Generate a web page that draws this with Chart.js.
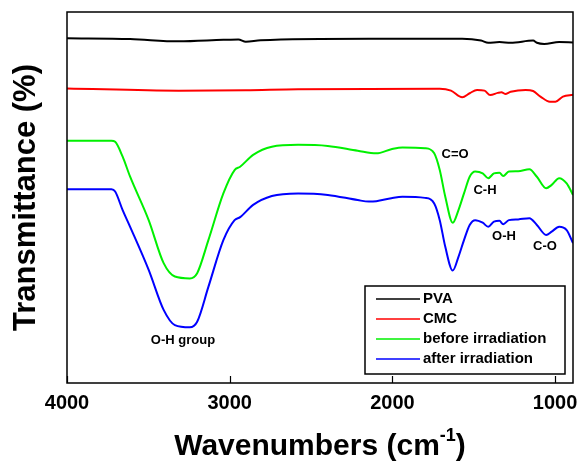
<!DOCTYPE html>
<html>
<head>
<meta charset="utf-8">
<script src="https://cdn.jsdelivr.net/npm/chart.js@4.4.1/dist/chart.umd.min.js"></script>
<style>
  html, body { margin: 0; padding: 0; background: #fff; }
</style>
</head>
<body>
<canvas id="ftirChart" width="583" height="461"></canvas>
<script>
// FTIR spectra, values (arbitrary transmittance units)
const seriesNames = ['PVA', 'CMC', 'before irradiation', 'after irradiation'];
const seriesColors = ['#000000', '#ff0000', '#00f000', '#0000ff'];

const pvaWn = [4000, 3612, 3314, 3039, 2947, 2901, 2810, 2145, 1571, 1455, 1411, 1342, 1273, 1135, 1112, 1067, 975, 890];
const pvaT  = [92.9, 92.7, 92.1, 92.5, 92.6, 92.0, 92.4, 92.8, 92.8, 92.3, 91.7, 91.9, 91.7, 92.3, 91.7, 91.4, 91.9, 91.8];

const cmcWn = [4000, 3314, 2901, 2580, 1709, 1640, 1571, 1525, 1480, 1434, 1399, 1353, 1330, 1307, 1273, 1181, 1135, 1090, 1032, 998, 952, 890];
const cmcT  = [79.4, 78.8, 78.9, 79.2, 79.3, 78.8, 77.0, 78.1, 79.0, 78.8, 77.6, 78.2, 78.4, 77.9, 78.5, 79.0, 78.7, 77.2, 75.8, 75.8, 77.2, 77.7];

const beforeWn = [4000, 3727, 3704, 3658, 3612, 3498, 3406, 3337, 3245, 3200, 3131, 3039, 2970, 2936, 2856, 2741, 2580, 2397, 2213, 2099, 2007, 1938, 1800, 1743, 1709, 1675, 1629, 1594, 1560, 1525, 1491, 1445, 1411, 1376, 1342, 1319, 1284, 1227, 1158, 1112, 1055, 1021, 975, 929, 890];
const beforeT  = [65.3, 65.3, 65.0, 61.0, 55.6, 43.9, 32.3, 28.7, 28.2, 29.6, 38.5, 51.1, 57.4, 58.3, 61.5, 63.7, 64.2, 63.9, 62.6, 61.9, 63.0, 63.5, 63.3, 61.9, 57.4, 50.2, 43.2, 46.6, 51.1, 55.6, 57.0, 56.5, 55.2, 56.5, 56.7, 55.8, 57.0, 57.1, 57.6, 55.6, 52.5, 53.4, 55.2, 53.8, 50.7];

const afterWn = [4000, 3727, 3704, 3658, 3612, 3498, 3406, 3337, 3245, 3200, 3131, 3039, 2970, 2936, 2856, 2741, 2580, 2397, 2213, 2145, 2099, 2007, 1938, 1800, 1743, 1709, 1675, 1629, 1594, 1560, 1525, 1491, 1445, 1411, 1376, 1342, 1319, 1284, 1227, 1158, 1112, 1055, 1021, 975, 929, 890];
const afterT  = [52.2, 52.2, 51.6, 46.6, 42.1, 30.5, 19.7, 15.6, 15.0, 16.5, 25.9, 38.5, 43.9, 44.7, 48.0, 50.4, 51.1, 50.7, 49.3, 48.9, 49.0, 49.8, 50.2, 49.9, 48.4, 43.9, 36.7, 30.3, 34.0, 38.5, 42.6, 43.9, 43.2, 42.1, 43.5, 43.7, 42.8, 43.9, 44.1, 44.4, 42.6, 39.9, 40.8, 42.1, 41.2, 37.7];

const xTickValues = [4000, 3000, 2000, 1000];

// peak labels
const annoText = ['C=O', 'C-H', 'O-H', 'C-O', 'O-H group'];
const annoWn   = [1615, 1431, 1314, 1062, 3287];
const annoT    = [61.5, 51.8, 39.4, 36.7, 11.6];

function toPoints(wn, t) {
    return wn.map((w, i) => ({ x: w, y: t[i] }));
}

const allWn = [pvaWn, cmcWn, beforeWn, afterWn];
const allT = [pvaT, cmcT, beforeT, afterT];

const datasets = seriesNames.map((name, i) => ({
    label: name,
    data: toPoints(allWn[i], allT[i]),
    borderColor: seriesColors[i],
    backgroundColor: seriesColors[i],
    borderWidth: 2,
    pointRadius: 0,
    cubicInterpolationMode: 'monotone',
    fill: false
}));

const FONT = '"Liberation Sans", Arial, sans-serif';

const decorPlugin = {
    id: 'decor',
    afterDatasetsDraw(chart) {
        const ctx = chart.ctx;
        const area = chart.chartArea;
        const xs = chart.scales.x;
        const ys = chart.scales.y;
        ctx.save();

        // frame
        ctx.strokeStyle = '#000';
        ctx.lineWidth = 1.5;
        ctx.strokeRect(area.left, area.top, area.right - area.left, area.bottom - area.top);

        // inward ticks
        ctx.lineWidth = 1.2;
        xTickValues.forEach(v => {
            const px = Math.round(xs.getPixelForValue(v)) + 0.5;
            ctx.beginPath();
            ctx.moveTo(px, area.bottom);
            ctx.lineTo(px, area.bottom - 7);
            ctx.stroke();
        });

        // peak labels
        ctx.fillStyle = '#000';
        ctx.font = 'bold 13px ' + FONT;
        ctx.textAlign = 'center';
        ctx.textBaseline = 'middle';
        annoText.forEach((t, i) => {
            ctx.fillText(t, xs.getPixelForValue(annoWn[i]), ys.getPixelForValue(annoT[i]));
        });

        // legend box
        const boxW = 200, boxH = 88;
        const bx = area.right - 8 - boxW;
        const by = area.bottom - 9 - boxH;
        ctx.fillStyle = '#fff';
        ctx.fillRect(bx, by, boxW, boxH);
        ctx.lineWidth = 1.5;
        ctx.strokeRect(bx, by, boxW, boxH);
        ctx.font = 'bold 15px ' + FONT;
        ctx.textAlign = 'left';
        chart.data.datasets.forEach((ds, i) => {
            const ry = by + 13 + i * 20;
            ctx.strokeStyle = ds.borderColor;
            ctx.lineWidth = 1.5;
            ctx.beginPath();
            ctx.moveTo(bx + 11, ry);
            ctx.lineTo(bx + 55, ry);
            ctx.stroke();
            ctx.fillStyle = '#000';
            ctx.fillText(ds.label, bx + 58, ry);
        });

        // x axis title with superscript
        const cx = (area.left + area.right) / 2;
        const base = 455;
        const main = 'Wavenumbers (cm';
        const sup = '-1';
        const end = ')';
        ctx.font = 'bold 30px ' + FONT;
        const wMain = ctx.measureText(main).width;
        const wEnd = ctx.measureText(end).width;
        ctx.font = 'bold 18px ' + FONT;
        const wSup = ctx.measureText(sup).width;
        let x0 = cx - (wMain + wSup + wEnd) / 2;
        ctx.textBaseline = 'alphabetic';
        ctx.font = 'bold 30px ' + FONT;
        ctx.fillText(main, x0, base);
        ctx.font = 'bold 18px ' + FONT;
        ctx.fillText(sup, x0 + wMain, base - 14);
        ctx.font = 'bold 30px ' + FONT;
        ctx.fillText(end, x0 + wMain + wSup, base);

        ctx.restore();
    }
};

new Chart(document.getElementById('ftirChart'), {
    type: 'line',
    data: { datasets: datasets },
    options: {
        responsive: false,
        animation: false,
        layout: { padding: { top: 12, right: 10, left: 0, bottom: 0 } },
        plugins: {
            legend: { display: false },
            tooltip: { enabled: false }
        },
        scales: {
            x: {
                type: 'linear',
                reverse: true,
                min: 890,
                max: 4000,
                afterBuildTicks: scale => {
                    scale.ticks = xTickValues.map(v => ({ value: v }));
                },
                afterFit: scale => {
                    scale.height = 78;
                    scale.paddingLeft = 0;
                    scale.paddingRight = 0;
                },
                grid: { display: false, drawTicks: false },
                border: { display: false },
                ticks: {
                    color: '#000',
                    padding: 8,
                    maxRotation: 0,
                    callback: v => String(v),
                    font: { family: FONT, size: 20, weight: 'bold' }
                }
            },
            y: {
                type: 'linear',
                min: 0,
                max: 100,
                afterFit: scale => { scale.width = 67; },
                grid: { display: false, drawTicks: false },
                border: { display: false },
                ticks: { display: false },
                title: {
                    display: true,
                    text: 'Transmittance (%)',
                    color: '#000',
                    padding: { top: 8, bottom: 0 },
                    font: { family: FONT, size: 31, weight: 'bold' }
                }
            }
        }
    },
    plugins: [decorPlugin]
});
</script>
</body>
</html>
